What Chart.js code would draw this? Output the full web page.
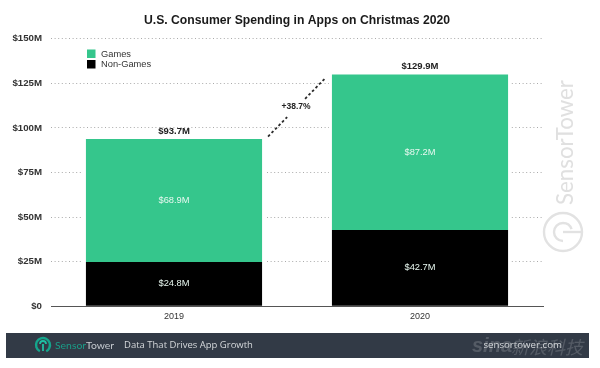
<!DOCTYPE html>
<html><head><meta charset="utf-8">
<script src="https://cdn.jsdelivr.net/npm/chart.js@4"></script>
<style>html,body{margin:0;padding:0;background:#fff}#w{width:600px;height:368px;filter:blur(0.45px)}canvas{display:block}</style>
</head><body><div id="w"><canvas id="c" width="600" height="368"></canvas></div>
<script>
const years = ['2019', '2020'];
const games = [68.9, 87.2];
const nonGames = [24.8, 42.7];
const totals = [93.7, 129.9];
const growthLabel = '+38.7%';
const yTicks = [0, 25, 50, 75, 100, 125, 150];
const GREEN = '#35c68c', FONT = '"Liberation Sans", Arial, sans-serif';

const decor = {
  id: 'decor',
  beforeDatasetsDraw(ch) {
    const c = ch.ctx, m = ch.getDatasetMeta(0), t = ch.getDatasetMeta(1);
    c.save(); c.fillStyle = '#fff';
    m.data.forEach((b, i) => {
      const w = b.width, top = t.data[i].y;
      c.fillRect(b.x - w / 2 - 3, top, w + 6, ch.scales.y.bottom - top - 1);
    });
    c.restore();
  },
  afterDatasetsDraw(ch) {
    const c = ch.ctx, x = ch.scales.x, y = ch.scales.y;
    const m1 = ch.getDatasetMeta(1);
    c.save();
    c.textBaseline = 'middle'; c.textAlign = 'center';
    c.font = '9.3px ' + FONT; c.fillStyle = '#e8f8f0';
    ch.data.datasets.forEach((ds, d) => {
      ch.getDatasetMeta(d).data.forEach((b, i) => {
        c.fillText('$' + ds.data[i].toFixed(1) + 'M', b.x, (b.y + b.base) / 2);
      });
    });
    c.font = 'bold 9.5px ' + FONT; c.fillStyle = '#222';
    totals.forEach((v, i) => c.fillText('$' + v.toFixed(1) + 'M', x.getPixelForValue(i), y.getPixelForValue(v) - 8));
    // connector, broken around its label
    const bw = m1.data[0].width;
    const x0 = x.getPixelForValue(0) + bw / 2 + 6, x1 = x.getPixelForValue(1) - bw / 2 - 6;
    const y0 = y.getPixelForValue(totals[0]) - 2.5, y1 = y.getPixelForValue(totals[1]) + 3;
    const at = p => [x0 + (x1 - x0) * p, y0 + (y1 - y0) * p];
    c.strokeStyle = '#2a2a2a'; c.lineWidth = 1.8; c.setLineDash([2.6, 2.4]);
    [[0, 0.33], [0.64, 1]].forEach(seg => {
      const a = at(seg[0]), b = at(seg[1]);
      c.beginPath(); c.moveTo(a[0], a[1]); c.lineTo(b[0], b[1]); c.stroke();
    });
    c.setLineDash([]);
    c.font = 'bold 8.5px ' + FONT; c.fillStyle = '#222';
    c.fillText(growthLabel, 296, 107);
    // legend
    const items = [['Games', GREEN, 49.5], ['Non-Games', '#000', 60]];
    c.textAlign = 'left'; c.font = '9.3px ' + FONT;
    items.forEach(it => {
      c.fillStyle = it[1]; c.fillRect(87, it[2], 8.5, 8.5);
      c.fillStyle = '#333'; c.fillText(it[0], 101, it[2] + 4.5);
    });
    c.restore();
  },
  afterDraw(ch) {
    const c = ch.ctx;
    c.save();
    c.save();
    c.translate(573, 205); c.rotate(-Math.PI / 2);
    c.font = '22.3px Lato, "Open Sans", sans-serif'; c.textAlign = 'left'; c.textBaseline = 'alphabetic';
    c.fillStyle = '#e0e0e0'; c.fillText('SensorTower', 0, 0);
    c.restore();
    c.strokeStyle = '#e2e2e2'; c.lineWidth = 2.4;
    c.beginPath(); c.arc(563, 232, 19, 0, 2 * Math.PI); c.stroke();
    c.beginPath(); c.arc(563, 232, 9, 0.5 * Math.PI, 1.9 * Math.PI); c.stroke();
    c.beginPath(); c.moveTo(563, 232); c.lineTo(582, 232); c.stroke();
    // footer band
    c.fillStyle = '#323a46'; c.fillRect(6, 333, 583, 25);
    c.strokeStyle = '#14a58c'; c.lineWidth = 2.4;
    c.beginPath(); c.arc(43, 345, 7, 0.65 * Math.PI, 0.35 * Math.PI); c.stroke();
    c.lineWidth = 1.8; c.strokeStyle = '#1fc0a4';
    c.beginPath(); c.arc(43, 344, 3, Math.PI, 2 * Math.PI); c.moveTo(43, 344); c.lineTo(43, 351); c.stroke();
    c.textBaseline = 'alphabetic'; c.textAlign = 'left';
    // sina watermark below the URL
    c.fillStyle = 'rgba(255,255,255,0.17)';
    c.font = 'italic bold 20px ' + FONT; c.fillText('sina', 472, 352);
    c.font = 'italic 18px "Noto Sans CJK SC", sans-serif'; c.fillText('新浪科技', 511, 354);
    c.textBaseline = 'middle';
    c.font = '10.4px Lato, sans-serif';
    c.fillStyle = '#1a9d88'; c.fillText('Sensor', 55, 345.5);
    const sw = c.measureText('Sensor').width;
    c.fillStyle = '#c6cbd0'; c.fillText('Tower', 55 + sw, 345.5);
    c.font = '9.5px "Open Sans", sans-serif'; c.fillStyle = '#d5d8db';
    c.fillText('Data That Drives App Growth', 124, 345.5);
    c.font = '9.7px "Open Sans", sans-serif'; c.textAlign = 'right';
    c.fillText('sensortower.com', 562, 345.5);
    c.restore();
  }
};

new Chart(document.getElementById('c'), {
  type: 'bar',
  data: {
    labels: years,
    datasets: [
      { label: 'Non-Games', data: nonGames, backgroundColor: '#000' },
      { label: 'Games', data: games, backgroundColor: GREEN }
    ]
  },
  options: {
    responsive: false, animation: false, events: [],
    layout: { padding: { left: 0, right: 57, top: 0, bottom: 41 } },
    datasets: { bar: { barPercentage: 0.716, categoryPercentage: 1 } },
    plugins: {
      legend: { display: false }, tooltip: { enabled: false },
      title: {
        display: true, fullSize: false, text: 'U.S. Consumer Spending in Apps on Christmas 2020',
        font: { family: FONT, size: 12.2, weight: 'bold' }, color: '#1a1a1a',
        padding: { top: 13, bottom: 11 }
      }
    },
    scales: {
      x: {
        stacked: true,
        grid: { display: false, drawTicks: false },
        border: { color: '#555', width: 1 },
        ticks: { color: '#333', font: { family: FONT, size: 9 }, padding: 5, maxRotation: 0 }
      },
      y: {
        stacked: true, min: 0, max: 150,
        afterBuildTicks(s) { s.ticks = yTicks.map(v => ({ value: v })); },
        afterFit(s) { s.width = 51; },
        border: { display: false, dash: [1, 2.6] },
        grid: { color: '#aaaaaa', tickLength: 0, lineWidth: 1 },
        ticks: { color: '#333', font: { family: FONT, size: 9.7, weight: 'bold' }, padding: 9, callback: v => v === 0 ? '$0' : '$' + v + 'M' }
      }
    }
  },
  plugins: [decor]
});
</script></body></html>
